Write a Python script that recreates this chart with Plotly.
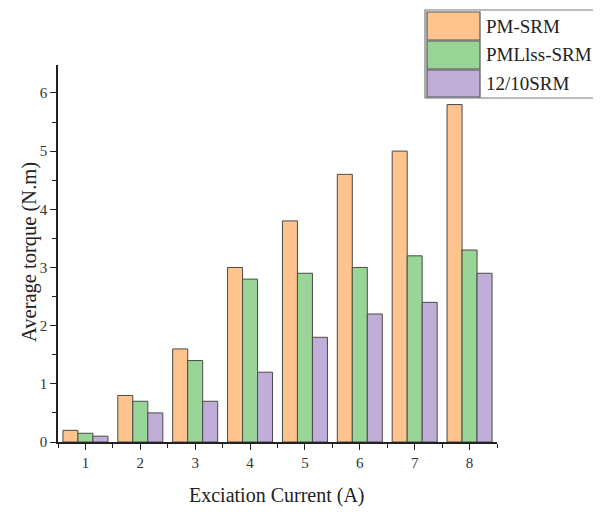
import plotly.graph_objects as go

categories = [1, 2, 3, 4, 5, 6, 7, 8]
series_names = ["PM-SRM", "PMLlss-SRM", "12/10SRM"]
legend_labels = ["PM-SRM", "PMLlss-SRM", "12/10SRM"]
pm_srm = [0.2, 0.8, 1.6, 3.0, 3.8, 4.6, 5.0, 5.8]
pmllss_srm = [0.15, 0.7, 1.4, 2.8, 2.9, 3.0, 3.2, 3.3]
srm_12_10 = [0.1, 0.5, 0.7, 1.2, 1.8, 2.2, 2.4, 2.9]
colors = ["#FFC38D", "#98D596", "#C0AED9"]

OFF = 8  # page body margin
W, H = 601, 512
# plot area in screen pixels
SX0, SX1, SY0, SY1 = 58, 497, 65, 442
L = SX0 - OFF
T = SY0 - OFF
R = W - (SX1 - OFF)
B = H - (SY1 - OFF)
pw, ph = SX1 - SX0, SY1 - SY0

def px(x):
    return (x - SX0) / pw

def py(y):
    return (SY1 - y) / ph

fig = go.Figure()
for name, vals, c in zip(series_names, [pm_srm, pmllss_srm, srm_12_10], colors):
    fig.add_trace(go.Bar(x=categories, y=vals, name=name, marker=dict(color=c, line=dict(color="#4a4a4a", width=1)), showlegend=False))

fig.update_layout(
    width=W, height=H,
    margin=dict(l=L, r=R, t=T, b=B, autoexpand=False),
    plot_bgcolor="white", paper_bgcolor="white",
    barmode="group", bargap=0.18, bargroupgap=0,
    font=dict(family="Liberation Serif, DejaVu Serif, serif", color="#333333"),
    xaxis=dict(range=[0.5, 8.5], tickvals=categories, ticks="outside", ticklen=6, tickwidth=1.3, automargin=False,
               tickcolor="#222", showline=True, linecolor="#222", linewidth=1.5, showgrid=False, zeroline=False,
               tickfont=dict(size=15),
               minor=dict(tickvals=[0.5 + i for i in range(9)], ticks="outside", ticklen=4, tickcolor="#222")),
    yaxis=dict(range=[0, 6.48], tickvals=[0, 1, 2, 3, 4, 5, 6], ticks="outside", ticklen=6, tickwidth=1.3, automargin=False,
               tickcolor="#222", showline=True, linecolor="#222", linewidth=1.5, showgrid=False, zeroline=False,
               tickfont=dict(size=15),
               minor=dict(tickvals=[0.5 + i for i in range(7)], ticks="outside", ticklen=4, tickcolor="#222")),
)

# axis titles
fig.add_annotation(xref="paper", yref="paper", x=px(277), y=py(495), text="Exciation Current (A)", showarrow=False,
                   xanchor="center", yanchor="middle", font=dict(size=20, color="#222"))
fig.add_annotation(xref="paper", yref="paper", x=px(29), y=py(252), text="Average torque (N.m)", showarrow=False,
                   textangle=-90, xanchor="center", yanchor="middle", font=dict(size=20.5, color="#222"))

# manual legend box
fig.add_shape(type="rect", xref="paper", yref="paper", x0=px(425), x1=px(612), y0=py(98), y1=py(10),
              line=dict(color="#777777", width=1.2), fillcolor="white", layer="above")
rows = [(12, 40), (41, 69), (70, 97)]
for (y0, y1), lab, c in zip(rows, legend_labels, colors):
    fig.add_shape(type="rect", xref="paper", yref="paper", x0=px(427), x1=px(480), y0=py(y1), y1=py(y0),
                  line=dict(color="#555555", width=1.2), fillcolor=c, layer="above")
    fig.add_annotation(xref="paper", yref="paper", x=px(484), y=py((y0 + y1) / 2), text=lab, showarrow=False,
                       xanchor="left", yanchor="middle", font=dict(size=19, color="#222"))

fig.write_html("out.html")
